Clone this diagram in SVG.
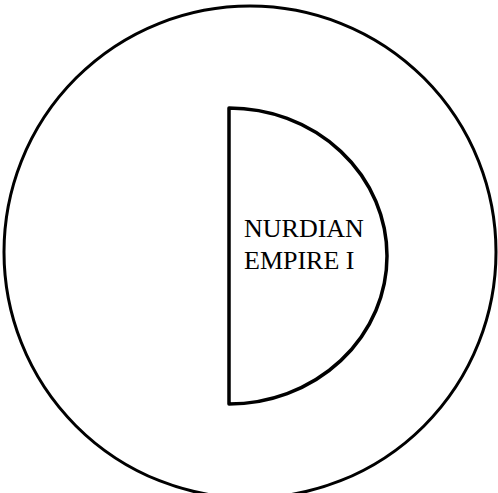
<svg xmlns="http://www.w3.org/2000/svg" width="498" height="493" viewBox="0 0 498 493">
<style>
.line{fill:none;stroke:#000;stroke-linejoin:round}
.lbl{font-family:"Liberation Serif","Times New Roman",serif;font-size:26px;fill:#000}
</style>
<rect width="498" height="493" fill="#fff"/>
<g id="outer">
<circle class="line" cx="250" cy="252" r="246" stroke-width="3"/>
</g>
<g id="nurdian-empire">
<path class="line" stroke-width="3.5" d="M229 108 L229 404 A158 148 0 0 0 229 108 Z"/>
<text class="lbl" x="244" y="237">NURDIAN</text>
<text class="lbl" x="244" y="269">EMPIRE I</text>
</g>
</svg>
